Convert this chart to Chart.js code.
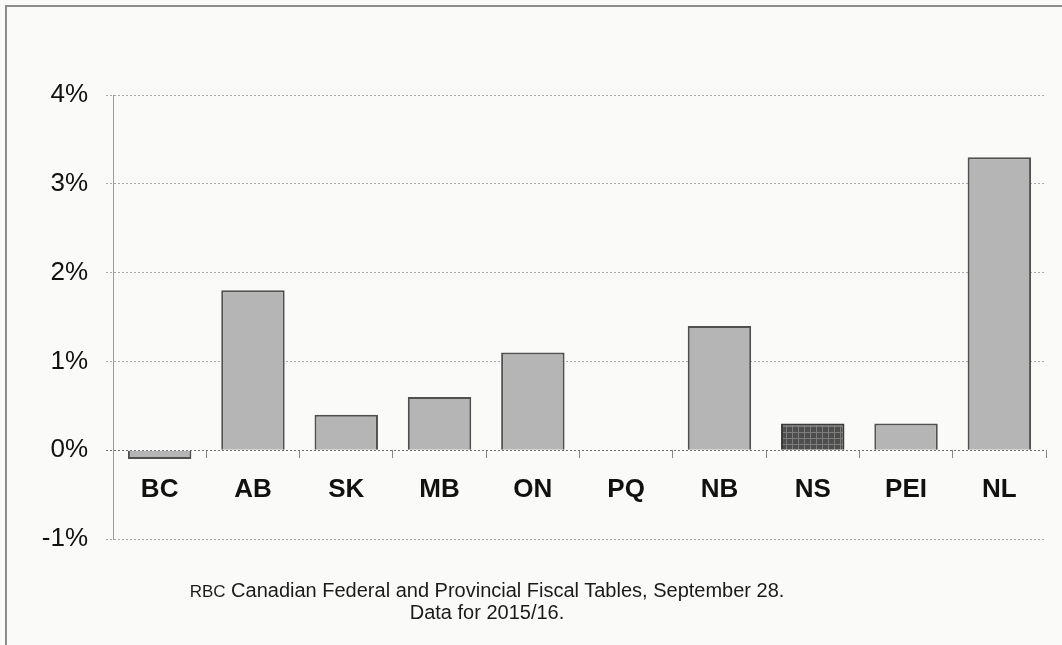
<!DOCTYPE html>
<html>
<head>
<meta charset="utf-8">
<script src="https://cdn.jsdelivr.net/npm/chart.js@4/dist/chart.umd.min.js"></script>
<style>
  html, body { margin: 0; padding: 0; background: #fafaf8; }
  #wrap { position: relative; width: 1062px; height: 645px; overflow: hidden; }
  #frame { position: absolute; left: 5px; top: 5px; width: 1060px; height: 645px;
           border-left: 2px solid #8c8c8c; border-top: 2px solid #8c8c8c; }
  #chart { position: absolute; left: 0; top: 0; }
  #source { position: absolute; left: 137px; top: 580px; width: 700px; text-align: center;
            font-family: 'Liberation Sans', Arial, sans-serif;
            font-size: 20px; line-height: 21px; color: #1a1a1a; }
  #source .org { font-size: 17px; }
</style>
</head>
<body>
<div id="wrap">
  <div id="frame"></div>
  <canvas id="chart" width="1062" height="645"></canvas>
  <div id="source"><span class="org">RBC</span> Canadian Federal and Provincial Fiscal Tables, September 28.<br>Data for 2015/16.</div>
</div>
<script>
// Provincial figures, 2015/16 (percent)
const provinces = ['BC', 'AB', 'SK', 'MB', 'ON', 'PQ', 'NB', 'NS', 'PEI', 'NL'];
const values = [-0.1, 1.8, 0.4, 0.6, 1.1, 0, 1.4, 0.3, 0.3, 3.3];
const yTickValues = [-1, 0, 1, 2, 3, 4];
const highlighted = 'NS';

// Dark cross-hatched fill for the highlighted province
function plaidPattern() {
  const c = document.createElement('canvas');
  c.width = 6; c.height = 6;
  const g = c.getContext('2d');
  g.fillStyle = '#4e4e4e';
  g.fillRect(0, 0, 6, 6);
  g.fillStyle = '#7c7c7c';
  g.fillRect(0, 0, 1, 6);
  g.fillRect(0, 0, 6, 1);
  return g.createPattern(c, 'repeat');
}
const plaid = plaidPattern();

const fills = provinces.map(p => p === highlighted ? plaid : '#b5b5b5');
const borders = provinces.map(p => p === highlighted ? '#3a3a3a' : '#505050');

new Chart(document.getElementById('chart'), {
  type: 'bar',
  data: {
    labels: provinces,
    datasets: [{
      data: values,
      backgroundColor: fills,
      borderColor: borders,
      borderWidth: 2,
      barPercentage: 0.68,
      categoryPercentage: 1.0
    }]
  },
  options: {
    responsive: false,
    animation: false,
    events: [],
    layout: { padding: { top: 95, bottom: 106, left: 0, right: 16 } },
    plugins: { legend: { display: false }, tooltip: { enabled: false } },
    scales: {
      x: {
        position: { y: 0 },
        offset: true,
        grid: { drawOnChartArea: false, drawTicks: true, tickLength: 8, offset: true, color: '#888', lineWidth: 1 },
        border: { display: false },
        ticks: { color: '#111', padding: 16,
                 font: { family: "'Liberation Sans', Arial, sans-serif", size: 26, weight: 'bold' } }
      },
      y: {
        min: -1,
        max: 4,
        afterFit: s => { s.width = 113; },
        afterBuildTicks: s => { s.ticks = yTickValues.map(v => ({ value: v })); },
        grid: {
          color: ctx => ctx.tick && ctx.tick.value === 0 ? '#6e6e6e' : '#a8a8a8',
          lineWidth: 1,
          tickLength: 7,
          tickBorderDash: [2, 2]
        },
        border: { display: true, color: '#9a9a9a', width: 1, dash: [2, 2] },
        ticks: {
          color: '#111',
          padding: 18,
          font: { family: "'Liberation Sans', Arial, sans-serif", size: 26 },
          callback: v => v + '%'
        }
      }
    }
  }
});
</script>
</body>
</html>
